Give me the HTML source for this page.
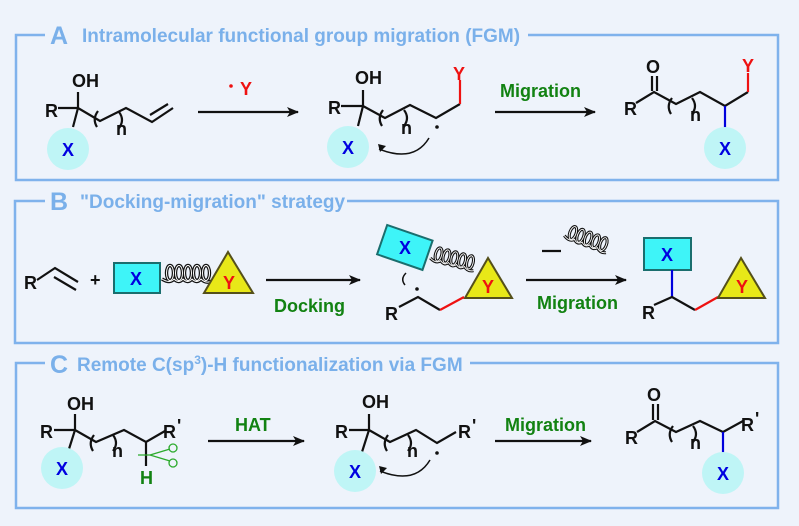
<!DOCTYPE html>
<html><head><meta charset="utf-8"><style>
html,body{margin:0;padding:0;background:#eef3fb;}
svg{display:block}
text{font-family:"Liberation Sans",Arial,sans-serif;font-weight:700}
.t{fill:#7ab0ea;font-size:19px}
.L{fill:#7ab0ea;font-size:25px}
.k{font-size:18px;fill:#111}
.g{fill:#128212;font-size:18px}
.bx{fill:none;stroke:#7fb2ec;stroke-width:2.5}
.b{fill:none;stroke:#111;stroke-width:2.2}
.xc{fill:#bff5f6}
.xt{fill:#0000e0;font-size:18px}
.yt{fill:#ee1111;font-size:18px}
</style></head><body>
<svg width="799" height="526" viewBox="0 0 799 526" xmlns="http://www.w3.org/2000/svg">
<defs><marker id="ah" markerWidth="12" markerHeight="10" refX="11" refY="5" orient="auto" markerUnits="userSpaceOnUse"><path d="M0,0 L12,5 L0,10 L3,5z" fill="#111"/></marker>
<g id="sp0"><ellipse cx="4" cy="-5" rx="3.5" ry="7.5"/><ellipse cx="13" cy="-5" rx="3.5" ry="7.5"/><ellipse cx="22" cy="-5" rx="3.5" ry="7.5"/><ellipse cx="31" cy="-5" rx="3.5" ry="7.5"/><ellipse cx="40" cy="-5" rx="3.5" ry="7.5"/><path d="M-4,1 Q4,6 8,1 Q13,6 17,1 Q22,6 26,1 Q31,6 35,1 Q40,6 46,3"/></g>
<g id="spr"><use href="#sp0" fill="none" stroke="#111" stroke-width="3.4"/><use href="#sp0" fill="none" stroke="#fff" stroke-width="1"/></g>
</defs>
<path class="bx" d="M45,35 H16 V180 H778 V35 H528"/>
<path class="bx" d="M45,201 H15 V343 H778 V201 H347"/>
<path class="bx" d="M45,363 H16 V508 H778 V363 H470"/>
<text class="L" x="50" y="44">A</text><text class="t" x="82" y="42">Intramolecular functional group migration (FGM)</text>
<text class="L" x="50" y="210">B</text><text class="t" x="80" y="208">"Docking-migration" strategy</text>
<text class="L" x="50" y="373">C</text><text class="t" x="77" y="371">Remote C(sp<tspan font-size="12" dy="-7">3</tspan><tspan dy="7">)-H functionalization via FGM</tspan></text>

<text class="k" x="72" y="87">OH</text><text class="k" x="45" y="117">R</text>
<path class="b" d="M58,108 H78 M78,92 V108 L73,127 M78,108 L100,121 L126,108 L152,122 L173,108 M150,115 L168,104"/>
<path class="b" d="M98,111 q-6,8 -1,16 M119,112 q6,8 0,16" stroke-width="1.8"/>
<text class="k" x="116" y="135">n</text>
<circle class="xc" cx="68" cy="149" r="21"/><text class="xt" x="62" y="156">X</text>
<line class="b" x1="198" y1="112" x2="298" y2="112" marker-end="url(#ah)"/>
<circle cx="231" cy="86" r="1.8" fill="#e11"/><text class="yt" x="240" y="95">Y</text>
<text class="k" x="355" y="84">OH</text><text class="k" x="328" y="114">R</text>
<path class="b" d="M341,106 H363 M363,90 V106 L358,126 M363,106 L385,118 L410,105 L436,118 L460,104"/>
<path class="b" d="M383,110 q-6,8 -1,16 M404,110 q6,8 0,16" stroke-width="1.8"/>
<text class="k" x="401" y="134">n</text>
<circle cx="437" cy="127" r="1.8" fill="#111"/>
<path d="M460,104 V80" stroke="#e11" stroke-width="2.2"/><text class="yt" x="453" y="80">Y</text>
<circle class="xc" cx="348" cy="147" r="21"/><text class="xt" x="342" y="154">X</text>
<path d="M429,138 q-15,25 -50,11" fill="none" stroke="#111" stroke-width="1.5"/><path d="M378,144 l8,2 -6,6z" fill="#111"/>
<line class="b" x1="495" y1="112" x2="595" y2="112" marker-end="url(#ah)"/>
<text class="g" x="500" y="97">Migration</text>
<text class="k" x="646" y="73">O</text><text class="k" x="624" y="115">R</text>
<path class="b" d="M636,103 L654,92 L676,104 L700,92 L725,106 L748,92 M652,76 V91 M657,76 V91"/>
<path class="b" d="M672,98 q-6,8 -1,16 M692,98 q6,8 0,16" stroke-width="1.8"/>
<text class="k" x="690" y="121">n</text>
<path d="M748,92 V73" stroke="#e11" stroke-width="2.2"/><text class="yt" x="742" y="72">Y</text>
<path d="M725,106 V128" stroke="#00d" stroke-width="2.2"/>
<circle class="xc" cx="725" cy="148" r="21"/><text class="xt" x="719" y="155">X</text>

<text class="k" x="24" y="289">R</text>
<path class="b" d="M37,280 L55,268 L78,282 M54,277 L76,290"/>
<text class="k" x="90" y="286">+</text>
<rect x="114" y="263" width="46" height="30" fill="#3ef4f8" stroke="#1a6e6e" stroke-width="2"/>
<text class="xt" x="130" y="285">X</text>
<use href="#spr" transform="translate(166,278)"/>
<path d="M204,293 L228,252 L253,293Z" fill="#e8e818" stroke="#55501a" stroke-width="2"/>
<text class="yt" x="223" y="289">Y</text>
<line class="b" x1="266" y1="280" x2="360" y2="280" marker-end="url(#ah)"/>
<text class="g" x="274" y="312">Docking</text>
<g transform="rotate(19 405 247)"><rect x="381" y="232" width="48" height="31" fill="#3ef4f8" stroke="#1a6e6e" stroke-width="2"/></g>
<text class="xt" x="399" y="254">X</text>
<use href="#spr" transform="translate(434,258) rotate(14) scale(0.9)"/>
<path d="M465,298 L488,258 L512,298Z" fill="#e8e818" stroke="#55501a" stroke-width="2"/>
<text class="yt" x="482" y="293">Y</text>
<text class="k" x="385" y="320">R</text>
<path class="b" d="M399,307 L418,297 L440,310"/><path d="M440,310 L464,297" stroke="#e11" stroke-width="2.2"/>
<circle cx="417" cy="289" r="1.8" fill="#111"/>
<path d="M406,273 q-6,6 -1,12" fill="none" stroke="#111" stroke-width="1.5"/>
<line class="b" x1="526" y1="280" x2="626" y2="280" marker-end="url(#ah)"/>
<text class="g" x="537" y="309">Migration</text>
<line class="b" x1="542" y1="251" x2="561" y2="251"/>
<use href="#spr" transform="translate(568,236) rotate(20) scale(0.9)"/>
<rect x="644" y="238" width="47" height="32" fill="#3ef4f8" stroke="#1a6e6e" stroke-width="2"/>
<text class="xt" x="661" y="261">X</text>
<path d="M672,270 V297" stroke="#00d" stroke-width="2.2"/>
<text class="k" x="642" y="319">R</text>
<path class="b" d="M654,305 L672,297 L695,310"/><path d="M695,310 L718,297" stroke="#e11" stroke-width="2.2"/>
<path d="M718,298 L741,258 L765,298Z" fill="#e8e818" stroke="#55501a" stroke-width="2"/>
<text class="yt" x="736" y="293">Y</text>

<text class="k" x="67" y="410">OH</text><text class="k" x="40" y="438">R</text>
<path class="b" d="M54,430 H75 M75,414 V430 L69,449 M75,430 L96,442 L124,430 L146,442 L165,431 M146,442 V466"/>
<path class="b" d="M94,435 q-6,8 -1,16 M113,435 q6,8 0,16" stroke-width="1.8"/>
<text class="k" x="112" y="457">n</text>
<text class="k" x="163" y="438">R</text><text class="k" x="177" y="432" font-size="13">'</text>
<text class="g" x="140" y="484">H</text>
<g stroke="#2caa2c" stroke-width="1.3" fill="none"><path d="M138,455 H150 M150,455 L170,449 M150,455 L170,461"/><circle cx="173" cy="448" r="4"/><circle cx="173" cy="463" r="4"/></g>
<circle class="xc" cx="62" cy="468" r="21"/><text class="xt" x="56" y="475">X</text>
<line class="b" x1="208" y1="441" x2="304" y2="441" marker-end="url(#ah)"/>
<text class="g" x="235" y="431">HAT</text>
<text class="k" x="362" y="408">OH</text><text class="k" x="335" y="438">R</text>
<path class="b" d="M349,430 H369 M369,414 V430 L362,452 M369,430 L390,442 L416,430 L437,443 L456,432"/>
<path class="b" d="M388,435 q-6,8 -1,16 M408,435 q6,8 0,16" stroke-width="1.8"/>
<text class="k" x="407" y="457">n</text>
<circle cx="437" cy="453" r="1.8" fill="#111"/>
<text class="k" x="458" y="438">R</text><text class="k" x="472" y="432" font-size="13">'</text>
<circle class="xc" cx="355" cy="471" r="21"/><text class="xt" x="349" y="478">X</text>
<path d="M430,460 q-15,25 -50,11" fill="none" stroke="#111" stroke-width="1.5"/><path d="M379,466 l8,2 -6,6z" fill="#111"/>
<line class="b" x1="495" y1="441" x2="591" y2="441" marker-end="url(#ah)"/>
<text class="g" x="505" y="431">Migration</text>
<text class="k" x="647" y="401">O</text><text class="k" x="625" y="444">R</text>
<path class="b" d="M637,432 L655,421 L676,432 L700,421 L723,432 L743,421 M653,404 V420 M658,404 V420"/>
<path class="b" d="M673,426 q-6,8 -1,16 M693,426 q6,8 0,16" stroke-width="1.8"/>
<text class="k" x="690" y="449">n</text>
<text class="k" x="741" y="431">R</text><text class="k" x="755" y="425" font-size="13">'</text>
<path d="M723,432 V455" stroke="#00d" stroke-width="2.2"/>
<circle class="xc" cx="723" cy="473" r="21"/><text class="xt" x="717" y="480">X</text>
</svg>
</body></html>
